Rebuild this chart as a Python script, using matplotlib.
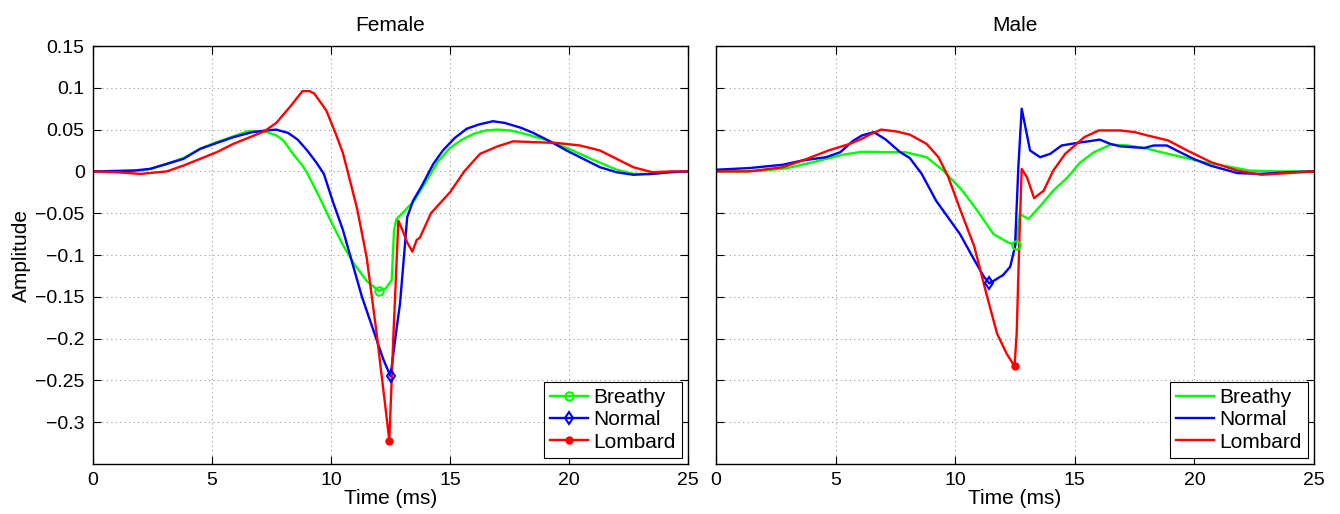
import matplotlib
matplotlib.use('Agg')
import matplotlib.pyplot as plt
from matplotlib.lines import Line2D

plt.rcParams['font.family'] = ['Liberation Sans', 'DejaVu Sans']
plt.rcParams['font.size'] = 14

# Female glottal flow derivative (time in ms, amplitude)
f_breathy_t = [0, 1, 2, 2.4, 3.1, 3.8, 4.5, 5.1, 5.9, 6.5, 7.0, 7.3, 7.7, 8.0, 8.4, 8.8,
               9.0, 9.5, 10.0, 10.5, 11.0, 11.5, 12.0, 12.3, 12.55, 12.65, 12.75, 13.0,
               13.5, 14.0, 14.5, 15.0, 15.5, 16.0, 16.5, 17.0, 17.5, 18.0, 19.0, 20.0,
               21.0, 22.0, 22.7, 23.5, 24.3, 25]
f_breathy_a = [0, 0.0005, 0.001, 0.003, 0.009, 0.016, 0.027, 0.034, 0.042, 0.048, 0.048,
               0.047, 0.043, 0.037, 0.021, 0.007, -0.002, -0.03, -0.06, -0.088, -0.112,
               -0.131, -0.143, -0.140, -0.130, -0.07, -0.057, -0.050, -0.035, -0.012,
               0.012, 0.028, 0.038, 0.045, 0.049, 0.050, 0.049, 0.046, 0.038, 0.027,
               0.014, 0.002, -0.003, -0.003, -0.001, 0]

f_normal_t = [0, 1, 1.7, 2.4, 3.1, 3.8, 4.5, 5.1, 5.9, 6.7, 7.3, 7.7, 8.2, 8.6, 9.0, 9.4,
              9.7, 10.1, 10.5, 10.8, 11.3, 11.9, 12.2, 12.5, 12.7, 12.9, 13.1, 13.2,
              13.45, 13.8, 14.3, 14.7, 15.2, 15.7, 16.2, 16.8, 17.3, 18.0, 18.5, 19.2,
              19.9, 20.6, 21.3, 22.0, 22.7, 23.5, 24.2, 25]
f_normal_a = [0, 0.0005, 0.001, 0.003, 0.009, 0.015, 0.027, 0.033, 0.041, 0.047, 0.049,
              0.050, 0.046, 0.038, 0.025, 0.010, -0.003, -0.038, -0.070, -0.100, -0.150,
              -0.200, -0.225, -0.245, -0.200, -0.158, -0.090, -0.055, -0.035, -0.018,
              0.009, 0.025, 0.040, 0.051, 0.056, 0.060, 0.058, 0.052, 0.046, 0.036,
              0.025, 0.015, 0.005, -0.001, -0.004, -0.003, -0.001, 0]

f_lombard_t = [0, 1, 2, 3.1, 3.8, 4.5, 5.2, 5.9, 6.6, 7.2, 7.7, 8.3, 8.8, 9.1, 9.3, 9.8,
               10.2, 10.5, 10.7, 11.1, 11.5, 11.9, 12.27, 12.45, 12.62, 12.83, 13.0, 13.2,
               13.42, 13.6, 13.74, 14.2, 15.0, 15.6, 16.26, 17.0, 17.66, 18.5, 19.5,
               20.46, 21.3, 22.0, 22.7, 23.5, 24.3, 25]
f_lombard_a = [0, -0.001, -0.003, 0, 0.007, 0.015, 0.023, 0.033, 0.041, 0.048, 0.058,
               0.078, 0.096, 0.096, 0.093, 0.073, 0.045, 0.022, 0.0, -0.045, -0.103,
               -0.190, -0.278, -0.322, -0.198, -0.059, -0.070, -0.085, -0.096, -0.082,
               -0.079, -0.050, -0.025, 0.0, 0.021, 0.030, 0.036, 0.035, 0.034, 0.031,
               0.025, 0.015, 0.005, -0.001, 0, 0]

# Male
m_breathy_t = [0, 1, 2, 3, 4.2, 5.3, 6.1, 7.2, 7.9, 8.8, 9.5, 10.3, 10.9, 11.6, 12.2,
               12.55, 12.7, 13.06, 13.6, 14.1, 14.7, 15.2, 15.8, 16.5, 17.2, 17.9, 18.6,
               19.5, 20.4, 21.2, 22.3, 23.5, 25]
m_breathy_a = [0, 0, 0.001, 0.004, 0.012, 0.020, 0.0235, 0.023, 0.023, 0.017, 0.001,
               -0.023, -0.046, -0.075, -0.085, -0.088, -0.051, -0.057, -0.040, -0.023,
               -0.007, 0.010, 0.023, 0.032, 0.031, 0.028, 0.023, 0.017, 0.011, 0.007,
               0.001, 0, 0]

m_normal_t = [0, 1.4, 2.8, 3.6, 4.6, 5.2, 5.7, 6.1, 6.6, 7.1, 7.7, 8.1, 8.6, 9.2, 9.6,
              10.2, 10.8, 11.2, 11.43, 12.0, 12.3, 12.5, 12.64, 12.78, 13.13, 13.55,
              13.97, 14.45, 15.08, 16.05, 16.47, 16.9, 17.9, 18.3, 18.85, 19.26, 19.96,
              20.66, 21.8, 22.75, 23.9, 25]
m_normal_a = [0.002, 0.004, 0.008, 0.013, 0.017, 0.023, 0.036, 0.043, 0.047, 0.038,
              0.023, 0.016, -0.003, -0.035, -0.051, -0.075, -0.106, -0.126, -0.134,
              -0.124, -0.114, -0.090, 0.005, 0.075, 0.025, 0.017, 0.021, 0.031, 0.034,
              0.038, 0.033, 0.030, 0.028, 0.031, 0.031, 0.025, 0.015, 0.007, -0.002,
              -0.003, -0.001, 0]

m_lombard_t = [0, 1.4, 2.8, 3.8, 4.7, 5.6, 6.1, 6.5, 6.9, 7.5, 8.1, 8.8, 9.3, 9.7, 10.2,
               10.8, 11.3, 11.75, 12.15, 12.48, 12.57, 12.69, 12.78, 13.0, 13.3, 13.7,
               14.1, 14.6, 15.4, 16.0, 16.9, 17.5, 17.9, 18.9, 19.7, 20.7, 21.8, 22.8,
               23.9, 25]
m_lombard_a = [0, 0, 0.005, 0.015, 0.025, 0.033, 0.039, 0.045, 0.050, 0.048, 0.044,
               0.033, 0.017, -0.006, -0.045, -0.090, -0.146, -0.194, -0.218, -0.233,
               -0.194, -0.075, 0.003, -0.007, -0.032, -0.023, 0.001, 0.021, 0.041, 0.049,
               0.049, 0.047, 0.044, 0.037, 0.025, 0.011, 0.001, -0.004, -0.002, 0]

labels = ['Breathy', 'Normal', 'Lombard']
colors = ['#00ff00', '#0000ff', '#ff0000']
markers = ['o', 'd', '.']

fig = plt.figure(figsize=(13.4, 5.14), dpi=100)
ax1 = fig.add_axes([93 / 1340, 50 / 514, 595 / 1340, 418 / 514])
ax2 = fig.add_axes([716 / 1340, 50 / 514, 598 / 1340, 418 / 514])

female = [(f_breathy_t, f_breathy_a), (f_normal_t, f_normal_a), (f_lombard_t, f_lombard_a)]
male = [(m_breathy_t, m_breathy_a), (m_normal_t, m_normal_a), (m_lombard_t, m_lombard_a)]


def draw_min_marker(ax, t, a, color, marker):
    i = a.index(min(a))
    if marker == '.':
        ax.plot(t[i], a[i], marker='o', ms=5, color=color, zorder=4)
    elif marker == 'o':
        ax.plot(t[i], a[i], marker='o', ms=6, mfc='none', mec=color, mew=1.5, zorder=4)
    else:
        ax.plot(t[i], a[i], marker='d', ms=6, mfc='none', mec=color, mew=1.5, zorder=4)


for ax, data in ((ax1, female), (ax2, male)):
    for (t, a), c, m in zip(data, colors, markers):
        ax.plot(t, a, color=c, lw=1.7)
        draw_min_marker(ax, t, a, c, m)
    ax.set_xlim(0, 25)
    ax.set_ylim(-0.35, 0.15)
    ax.set_xticks([0, 5, 10, 15, 20, 25])
    ax.set_yticks([-0.3, -0.25, -0.2, -0.15, -0.1, -0.05, 0, 0.05, 0.1, 0.15])
    ax.grid(True, linestyle=(0, (1, 3)), color='#999999', lw=0.8)
    ax.tick_params(direction='in', top=True, right=True, length=6, width=0.8,
                   labelsize=14, pad=6)
    for s in ax.spines.values():
        s.set_linewidth(1.0)
    ax.set_xlabel('Time (ms)', fontsize=15, labelpad=0)

ax1.set_yticklabels(['\u22120.3', '\u22120.25', '\u22120.2', '\u22120.15', '\u22120.1',
                     '\u22120.05', '0', '0.05', '0.1', '0.15'])
ax2.set_yticklabels([])
ax1.set_ylabel('Amplitude', fontsize=15, labelpad=3)
ax1.set_title('Female', fontsize=15, pad=11)
ax2.set_title('Male', fontsize=15, pad=11)

f_handles = []
m_handles = []
for c, m in zip(colors, markers):
    if m == '.':
        f_handles.append(Line2D([], [], color=c, lw=1.7, marker='o', ms=5))
    else:
        f_handles.append(Line2D([], [], color=c, lw=1.7, marker=m, ms=6, mfc='none', mew=1.5))
    m_handles.append(Line2D([], [], color=c, lw=1.7))

for ax, h in ((ax1, f_handles), (ax2, m_handles)):
    leg = ax.legend(h, labels, loc='lower right', fontsize=15, fancybox=False,
                    framealpha=1, edgecolor='black', handlelength=1.8,
                    labelspacing=0.15, borderaxespad=0.3, handletextpad=0.25,
                    borderpad=0.3)
    leg.get_frame().set_linewidth(0.8)

fig.savefig('out.png', dpi=100)
